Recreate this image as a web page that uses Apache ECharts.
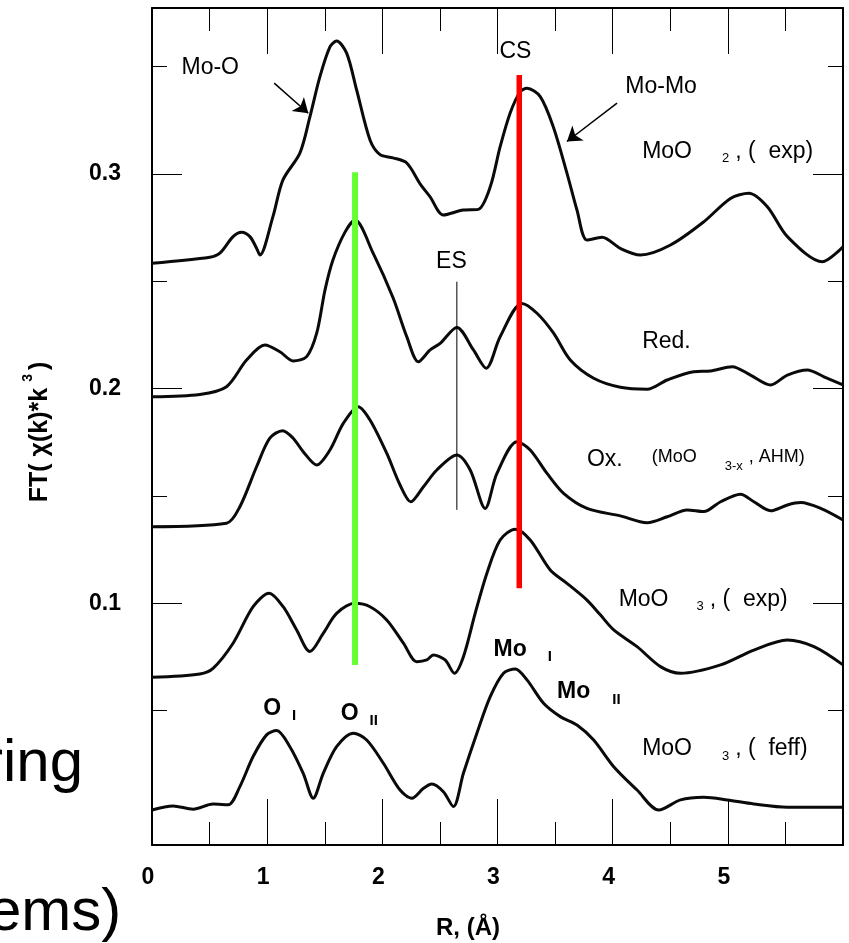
<!DOCTYPE html>
<html><head><meta charset="utf-8">
<script src="https://cdn.jsdelivr.net/npm/echarts@6/dist/echarts.min.js"></script>
<style>html,body{margin:0;padding:0;background:#fff}#c{width:849px;height:943px}</style>
</head><body><div id="c"></div>
<script>
// ---- data (R in Å, FT magnitude) ----
const xTickValues = [0, 1, 2, 3, 4, 5];
const yTickLabels = [0.1, 0.2, 0.3];
const yMinorTicks = [0.05, 0.15, 0.25, 0.35];

const moo2Exp = [[0,0.2584],[0.502,0.2612],[0.589,0.2631],[0.704,0.2708],[0.777,0.2728],[0.85,0.2708],[0.908,0.2654],[0.937,0.2622],[1.05,0.2801],[1.137,0.2972],[1.284,0.3097],[1.371,0.3266],[1.458,0.3453],[1.545,0.3592],[1.603,0.3619],[1.69,0.3563],[1.777,0.3391],[1.893,0.3158],[1.98,0.3090],[2.093,0.3075],[2.212,0.3051],[2.328,0.2954],[2.415,0.2893],[2.530,0.2809],[2.702,0.2832],[2.832,0.2835],[2.937,0.2940],[3.023,0.3127],[3.11,0.3284],[3.197,0.3383],[3.256,0.3399],[3.371,0.3360],[3.484,0.3220],[3.603,0.3004],[3.69,0.2832],[3.777,0.2692],[3.908,0.2705],[4.067,0.2653],[4.241,0.2622],[4.502,0.2669],[4.791,0.2777],[5.023,0.2886],[5.183,0.2910],[5.343,0.2847],[5.517,0.2708],[5.821,0.2591],[6,0.2661]];
const reduced = [[0,0.1962],[0.415,0.1973],[0.647,0.2009],[0.821,0.2133],[0.98,0.2203],[1.11,0.2172],[1.226,0.2129],[1.343,0.2149],[1.43,0.2258],[1.502,0.2459],[1.571,0.2599],[1.676,0.2729],[1.763,0.2785],[1.919,0.2632],[2.093,0.2423],[2.212,0.2242],[2.313,0.2125],[2.415,0.2180],[2.502,0.2211],[2.647,0.2285],[2.791,0.2180],[2.902,0.2095],[3.023,0.2242],[3.212,0.2397],[3.343,0.2351],[3.487,0.2258],[3.632,0.2133],[3.835,0.2048],[4.067,0.2006],[4.299,0.1997],[4.473,0.2040],[4.704,0.2079],[4.85,0.2082],[5.038,0.2102],[5.197,0.2063],[5.371,0.2017],[5.517,0.2063],[5.69,0.2087],[5.835,0.2055],[6,0.2017]];
const oxidized = [[0,0.1357],[0.647,0.1373],[0.763,0.1450],[0.908,0.1636],[1.023,0.1769],[1.134,0.1804],[1.226,0.1769],[1.313,0.1706],[1.43,0.1644],[1.545,0.1714],[1.661,0.1838],[1.791,0.1916],[1.893,0.1854],[2.038,0.1699],[2.154,0.1551],[2.247,0.1473],[2.357,0.1543],[2.473,0.1621],[2.647,0.1691],[2.763,0.1621],[2.893,0.1442],[2.995,0.1605],[3.169,0.1753],[3.284,0.1714],[3.43,0.1605],[3.574,0.1512],[3.777,0.1442],[4.067,0.1407],[4.299,0.1375],[4.473,0.1403],[4.647,0.1435],[4.791,0.1427],[4.937,0.1473],[5.11,0.1508],[5.226,0.1473],[5.371,0.1431],[5.517,0.1458],[5.632,0.1469],[5.806,0.1442],[6,0.1388]];
const moo3Exp = [[0,0.0655],[0.415,0.0671],[0.53,0.0697],[0.704,0.0814],[0.878,0.0984],[1.017,0.1047],[1.139,0.0984],[1.256,0.0876],[1.371,0.0775],[1.487,0.0860],[1.603,0.0953],[1.763,0.1000],[1.893,0.0984],[2.038,0.0922],[2.183,0.0814],[2.299,0.0728],[2.386,0.0736],[2.443,0.0759],[2.545,0.0736],[2.626,0.0674],[2.704,0.0751],[2.806,0.0953],[2.908,0.1140],[3.023,0.1295],[3.154,0.1345],[3.284,0.1295],[3.458,0.1155],[3.603,0.1093],[3.777,0.1015],[3.893,0.0946],[4.009,0.0876],[4.212,0.0798],[4.415,0.0705],[4.589,0.0674],[4.937,0.0713],[5.226,0.0782],[5.517,0.0829],[5.748,0.0798],[6,0.0713]];
const moo3Feff = [[0,0.0037],[0.183,0.0056],[0.357,0.0041],[0.53,0.0065],[0.661,0.0061],[0.763,0.0146],[0.878,0.0286],[0.995,0.0387],[1.082,0.0407],[1.197,0.0332],[1.313,0.0208],[1.4,0.0092],[1.487,0.0208],[1.603,0.0332],[1.748,0.0395],[1.864,0.0363],[2.009,0.0255],[2.154,0.0130],[2.256,0.0092],[2.357,0.0138],[2.43,0.0158],[2.530,0.0122],[2.617,0.0053],[2.704,0.0208],[2.821,0.0395],[2.937,0.0565],[3.052,0.0674],[3.154,0.0694],[3.256,0.0643],[3.4,0.0534],[3.545,0.0472],[3.69,0.0433],[3.835,0.0363],[4.009,0.0239],[4.212,0.0130],[4.4,0.0037],[4.589,0.0084],[4.791,0.0096],[4.995,0.0084],[5.226,0.0065],[5.517,0.0050],[6,0.0050]];

const greenLine = [[1.763,0.0713],[1.763,0.3008]];
const redLine = [[3.189,0.1070],[3.189,0.3461]];
const esLine = [[2.647,0.1435],[2.647,0.2498]];
const arrowMoO = [[1.061,0.3423],[1.357,0.3283]];
const arrowMoMo = [[4.038,0.3330],[3.603,0.3151]];

const annotations = [
  {at:[0.256,0.3493], text:'{a|Mo-O}'},
  {at:[3.017,0.3570], text:'{a|CS}'},
  {at:[4.110,0.3407], text:'{a|Mo-Mo}'},
  {at:[4.256,0.3106], text:'{a|MoO}{s30|2}{c6|, (  exp)}'},
  {at:[2.467,0.2592], text:'{a|ES}'},
  {at:[4.256,0.2219], text:'{a|Red.}'},
  {at:[3.777,0.1668], text:'{a|Ox.}{p29|(MoO}{x28|3-x}{p6|, AHM)}'},
  {at:[4.052,0.1016], text:'{a|MoO}{s28|3}{c6|, (  exp)}'},
  {at:[2.965,0.0786], text:'{b|Mo}{i21|I}'},
  {at:[3.517,0.0588], text:'{b|Mo}{i22|II}'},
  {at:[4.256,0.0321], text:'{a|MoO}{s30|3}{c6|, (  feff)}'},
  {at:[0.965,0.0511], text:'{b|O}{i11|I}'},
  {at:[1.638,0.0488], text:'{b|O}{i11|II}'}
];

// ---- styling ----
const F = '"Liberation Sans", Arial, Helvetica, sans-serif';
const K = '#000';
const rich = {
  a:{fontFamily:F,fontSize:23,color:K,lineHeight:23,verticalAlign:'top'},
  b:{fontFamily:F,fontSize:23,fontWeight:'bold',color:K,lineHeight:23,verticalAlign:'top'},
  c6:{fontFamily:F,fontSize:23,color:K,lineHeight:23,verticalAlign:'top',padding:[0,0,0,6]},
  s28:{fontFamily:F,fontSize:13,color:K,lineHeight:13,verticalAlign:'top',padding:[12,0,0,28]},
  s30:{fontFamily:F,fontSize:13,color:K,lineHeight:13,verticalAlign:'top',padding:[12,0,0,30]},
  p29:{fontFamily:F,fontSize:18,color:K,lineHeight:23,verticalAlign:'top',padding:[0,0,0,29]},
  p6:{fontFamily:F,fontSize:18,color:K,lineHeight:23,verticalAlign:'top',padding:[0,0,0,6]},
  x28:{fontFamily:F,fontSize:13,color:K,lineHeight:13,verticalAlign:'top',padding:[12,0,0,28]},
  i11:{fontFamily:F,fontSize:15,fontWeight:'bold',color:K,lineHeight:15,verticalAlign:'top',padding:[12,0,0,11]},
  i21:{fontFamily:F,fontSize:15,fontWeight:'bold',color:K,lineHeight:15,verticalAlign:'top',padding:[12,0,0,21]},
  i22:{fontFamily:F,fontSize:15,fontWeight:'bold',color:K,lineHeight:15,verticalAlign:'top',padding:[12,0,0,22]}
};

const Y_MIN = -0.0126, Y_MAX = 0.3773;
const axisLineStyle = {color:K, width:2};
const tickStyle = {color:K, width:1};

function xAx(pos, labels){
  return {type:'value', position:pos, min:0, max:6, interval:1,
    axisLine:{show:true, onZero:false, lineStyle:axisLineStyle},
    axisTick:{show:true, inside:true, length:46, lineStyle:tickStyle},
    minorTick:{show:true, splitNumber:2, length:23, lineStyle:tickStyle},
    splitLine:{show:false}, minorSplitLine:{show:false},
    axisLabel:{show:labels, fontFamily:F, fontWeight:'bold', fontSize:23, color:K, margin:21,
      padding:[0,8,0,0], formatter:v => xTickValues.includes(v) ? String(v) : ''}
  };
}
function yAx(pos, vals, len, showLine, labels){
  return {type:'value', position:pos, min:Y_MIN, max:Y_MAX,
    axisLine:{show:showLine, onZero:false, lineStyle:axisLineStyle},
    axisTick:{show:true, inside:true, length:len, customValues:vals, lineStyle:tickStyle},
    splitLine:{show:false},
    axisLabel:labels ? {show:true, customValues:yTickLabels, fontFamily:F, fontWeight:'bold', fontSize:23,
      color:K, margin:31, formatter:v => v.toFixed(1)} : {show:false}
  };
}

function curve(data){
  return {type:'line', data:data, symbol:'none', showSymbol:false, smooth:0.3,
    lineStyle:{color:'#0a0a0a', width:3}, silent:true, z:2};
}
function vline(data, color, width){
  return {type:'line', data:data, symbol:'none', showSymbol:false,
    lineStyle:{color:color, width:width}, silent:true, z:4};
}

const chart = echarts.init(document.getElementById('c'), null, {renderer:'canvas'});
chart.setOption({
  animation:false,
  backgroundColor:'#fff',
  grid:{left:152, right:6, top:8, bottom:98, containLabel:false},
  xAxis:[xAx('bottom', true), xAx('top', false)],
  yAxis:[
    yAx('left', yTickLabels, 30, true, true),
    yAx('left', yMinorTicks, 15, false, false),
    yAx('right', yTickLabels, 30, true, false),
    yAx('right', yMinorTicks, 15, false, false)
  ],
  series:[
    curve(moo2Exp), curve(reduced), curve(oxidized), curve(moo3Exp), curve(moo3Feff),
    Object.assign(vline(esLine, K, 1), {
      markLine:{silent:true, symbol:['none','arrow'], symbolSize:14, animation:false,
        lineStyle:{color:K, width:1.5, type:'solid', opacity:1}, label:{show:false},
        data:[[{coord:arrowMoO[0]},{coord:arrowMoO[1]}],[{coord:arrowMoMo[0]},{coord:arrowMoMo[1]}]]}
    }),
    vline(greenLine, '#66ff33', 6),
    vline(redLine, '#ff0000', 5.5),
    {type:'scatter', symbolSize:0, silent:true, z:6, itemStyle:{opacity:1, color:K},
      label:{show:true, color:K, opacity:1, textBorderWidth:0},
      data:annotations.map(a => ({value:a.at,
        label:{show:true, position:'right', distance:0, color:K, opacity:1, formatter:a.text, rich:rich}}))}
  ],
  graphic:[
    {type:'text', x:34, y:432, rotation:Math.PI/2, silent:true,
      style:{text:'{m|FT( χ(k)*k}{s|3}{m|)}', textAlign:'center', textVerticalAlign:'middle', fill:K,
        rich:{
          m:{fontFamily:F, fontSize:25, fontWeight:'bold', fill:K, lineHeight:25, verticalAlign:'top', padding:[6,0,0,0]},
          s:{fontFamily:F, fontSize:14, fontWeight:'bold', fill:K, lineHeight:14, verticalAlign:'top', padding:[0,4,0,6]}
        }}},
    {type:'text', x:436, y:928, silent:true,
      style:{text:'R, (Å)', font:'bold 24px ' + F, fill:K, textAlign:'left', textVerticalAlign:'middle'}},
    {type:'text', x:-17, y:764, silent:true,
      style:{text:'ring', font:'60px ' + F, fill:K, textAlign:'left', textVerticalAlign:'middle'}},
    {type:'text', x:-12, y:913, silent:true,
      style:{text:'ems)', font:'60px ' + F, fill:K, textAlign:'left', textVerticalAlign:'middle'}}
  ]
});
</script></body></html>
